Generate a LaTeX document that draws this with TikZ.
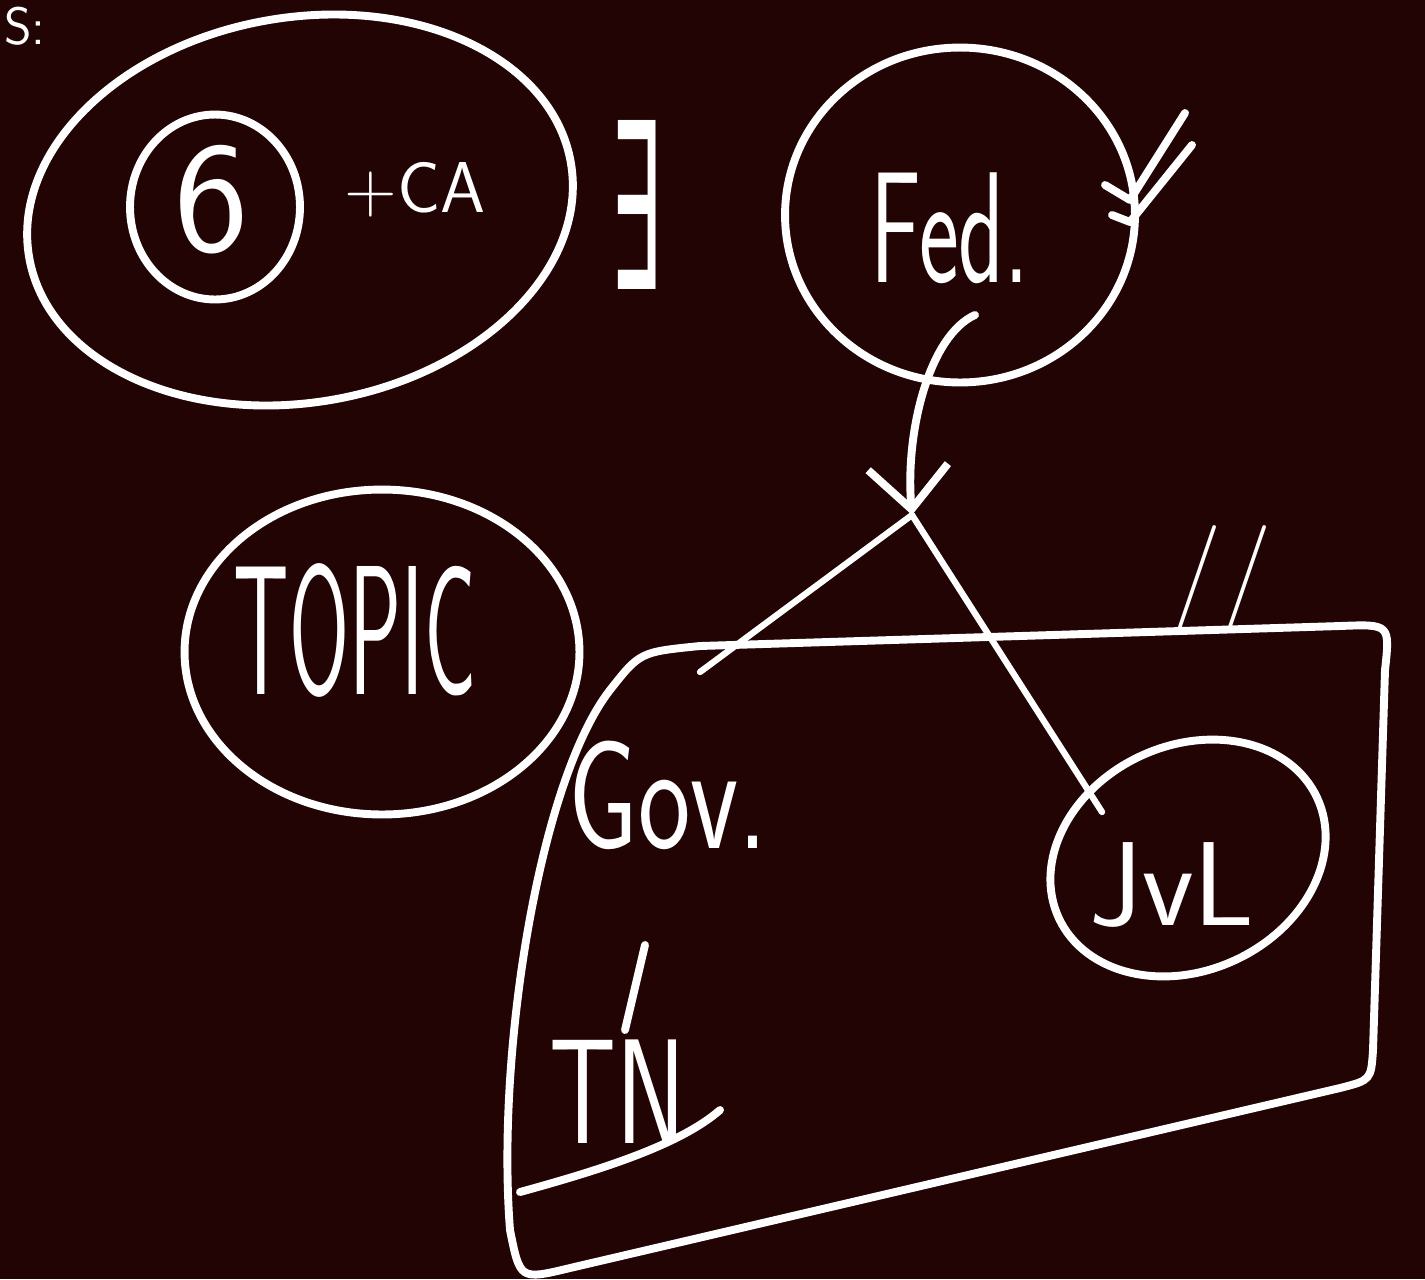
\documentclass[tikz,border=0pt]{standalone}
\usepackage{fontspec}
\newfontfamily\symfont{DejaVu Sans}
\usetikzlibrary{shapes.geometric,arrows.meta}
\definecolor{bg}{RGB}{33,4,3}
\begin{document}
\begin{tikzpicture}[x=0.02cm,y=-0.02cm, line cap=round, line join=round,
  ink/.style={draw=white, line width=4.5pt},
  thin ink/.style={draw=white, line width=3.6pt},
  blob/.style={ink, ellipse, inner sep=0pt},
  hand/.style={text=white, font=\sffamily, inner sep=0pt},
]
\fill[bg] (0,0) rectangle (1425,1279);
\useasboundingbox (0,0) rectangle (1425,1279);

% top-left label
\node[hand, anchor=base west, font=\sffamily\fontsize{30pt}{30pt}\selectfont] (slabel) at (4,44) {S:};

% schedule ellipse
\node[blob, minimum width=11.0cm, minimum height=7.7cm, rotate=10] (sched) at (300,210) {};
\node[blob, minimum width=3.4cm, minimum height=3.7cm] (six) at (215,207) {};
\node[hand, font=\sffamily\fontsize{90pt}{90pt}\selectfont] (sixtxt) at (212,200) {6};
\node[hand, font=\sffamily\fontsize{41pt}{41pt}\selectfont] (catxt) at (415,190) {+CA};
\node[hand, font=\symfont\fontsize{120pt}{120pt}\selectfont] (exists) at (636,205) {\scalebox{0.38}[1.1]{∃}};

% Fed circle
\node[blob, minimum width=7.0cm, minimum height=6.7cm] (fed) at (960,215) {};
\node[hand, font=\sffamily\fontsize{90pt}{90pt}\selectfont] (fedtxt) at (950,228) {\scalebox{0.6}[1]{Fed.}};
\draw[ink] (1105,185) -- (1130,200) -- (1185,113);
\draw[ink] (1112,215) -- (1130,222) -- (1192,145);

% TOPIC circle
\node[blob, minimum width=7.9cm, minimum height=6.5cm] (topic) at (382,652) {};
\node[hand, font=\sffamily\fontsize{105pt}{105pt}\selectfont] (topictxt) at (355,630) {\scalebox{0.47}[1]{TOPIC}};

% container box
\draw[ink] (700,646) -- (1340,626) .. controls (1390,624) .. (1385,670)
  -- (1373,1050) .. controls (1371,1080) .. (1340,1088)
  -- (570,1268) .. controls (520,1280) .. (510,1230)
  .. controls (496,1050) and (540,780) .. (610,690)
  .. controls (640,652) .. cycle;
\node[hand, font=\sffamily\fontsize{60pt}{60pt}\selectfont] (para) at (1222,578) {//};

% Gov, TN
\node[hand, font=\sffamily\fontsize{88pt}{88pt}\selectfont] (gov) at (668,795) {\scalebox{0.72}[1]{Gov.}};
\node[hand, font=\sffamily\fontsize{85pt}{85pt}\selectfont] (tn) at (618,1092) {\scalebox{0.7}[1]{TN}};
\coordinate (govlow) at (645,945);
\coordinate (tnhigh) at (625,1030);
\draw[ink] (govlow) -- (tnhigh);
\coordinate (ul1) at (520,1192);
\coordinate (ul2) at (720,1110);
\draw[ink] (ul1) .. controls (600,1170) and (680,1145) .. (ul2);

% JvL circle
\node[blob, minimum width=5.7cm, minimum height=4.5cm, rotate=25] (jul) at (1188,858) {};
\node[hand, font=\sffamily\fontsize{68pt}{68pt}\selectfont] (jultxt) at (1172,885) {JvL};

% arrow from Fed down to apex, then split
\coordinate (fedtail) at (975,315);
\coordinate (apex) at (912,515);
\coordinate (govtop) at (700,672);
\coordinate (julend) at (1102,812);
\draw[ink, -{Straight Barb[length=0.85cm,width=1.6cm]}] (fedtail) .. controls (930,335) and (905,430) .. (apex);
\draw[thin ink] (apex) -- (govtop);
\draw[thin ink] (apex) -- (julend);
\end{tikzpicture}
\end{document}
